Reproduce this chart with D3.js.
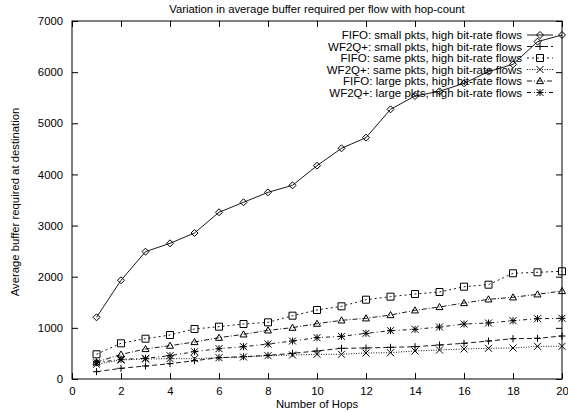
<!DOCTYPE html>
<html><head><meta charset="utf-8">
<script src="https://cdn.jsdelivr.net/npm/d3@7"></script>
<style>
body{margin:0;background:#fff;}
text{font-family:"Liberation Sans",Arial,Helvetica,sans-serif;fill:#000;}
</style></head>
<body>
<svg id="c" width="568" height="412"></svg>
<script>
const hops = d3.range(1, 21);
const fifoSmall  = [1206,1930,2490,2653,2855,3260,3455,3650,3787,4171,4511,4719,5273,5534,5625,5782,6010,6153,6596,6727];
const wf2qSmall  = [143,209,254,300,358,417,436,463,502,548,600,606,619,632,665,698,743,788,795,841];
const fifoSame   = [483,698,788,860,978,1023,1075,1108,1238,1349,1421,1551,1610,1662,1701,1805,1844,2067,2086,2106];
const wf2qSame   = [287,372,391,397,397,417,430,456,469,483,483,508,515,548,567,587,600,606,639,639];
const fifoLarge  = [330,480,587,652,724,808,873,952,1004,1082,1147,1187,1251,1343,1408,1486,1558,1597,1656,1721];
const wf2qLarge  = [319,385,404,456,534,593,632,684,743,808,834,893,945,971,1017,1075,1095,1140,1179,1187];
const seriesNames = [
  "FIFO: small pkts, high bit-rate flows",
  "WF2Q+: small pkts, high bit-rate flows",
  "FIFO: same pkts, high bit-rate flows",
  "WF2Q+: same pkts, high bit-rate flows",
  "FIFO: large pkts, high bit-rate flows",
  "WF2Q+: large pkts, high bit-rate flows"
];
const seriesValues = [fifoSmall, wf2qSmall, fifoSame, wf2qSame, fifoLarge, wf2qLarge];
const xTicks = d3.range(0, 21, 2);
const yTicks = d3.range(0, 7001, 1000);
const title = "Variation in average buffer required per flow with hop-count";
const xTitle = "Number of Hops";
const yTitle = "Average buffer required at destination";

const dashes = ["none", "5,3", "2,3", "1,1.5", "5,2,1,2", "4,3,1,3"];
const markers = ["diamond", "plus", "square", "cross", "triangle", "star"];

const svg = d3.select("#c");
const L = 72, R = 562, T = 21, B = 379;
const x = d3.scaleLinear().domain([0, 20]).range([L, R]);
const y = d3.scaleLinear().domain([0, 7000]).range([B, T]);

const tl = 6;
svg.append("g").attr("transform", `translate(0,${B})`)
  .call(d3.axisBottom(x).tickValues(xTicks).tickSize(-tl).tickPadding(tl + 3).tickFormat(d3.format("d")))
  .call(g => { g.select(".domain").remove(); g.selectAll("text").attr("font-size", 11.3).attr("dy", "0.6em"); });
svg.append("g").attr("transform", `translate(0,${T})`)
  .call(d3.axisTop(x).tickValues(xTicks).tickSize(-tl).tickFormat(""))
  .call(g => g.select(".domain").remove());
svg.append("g").attr("transform", `translate(${L},0)`)
  .call(d3.axisLeft(y).tickValues(yTicks).tickSize(-tl).tickPadding(tl + 3).tickFormat(d3.format("d")))
  .call(g => { g.select(".domain").remove(); g.selectAll("text").attr("font-size", 11.3); });
svg.append("g").attr("transform", `translate(${R},0)`)
  .call(d3.axisRight(y).tickValues(yTicks).tickSize(-tl).tickFormat(""))
  .call(g => g.select(".domain").remove());
svg.selectAll(".tick line").attr("stroke", "#000");
svg.append("rect").attr("x", L).attr("y", T).attr("width", R - L).attr("height", B - T)
  .attr("fill", "none").attr("stroke", "#000").attr("stroke-width", 1);

svg.append("text").attr("x", (L + R) / 2).attr("y", 13).attr("text-anchor", "middle").attr("font-size", 11.3).text(title);
svg.append("text").attr("x", (L + R) / 2).attr("y", 408).attr("text-anchor", "middle").attr("font-size", 11.3).text(xTitle);
svg.append("text").attr("transform", `translate(19,${(T + B) / 2 + 2}) rotate(-90)`).attr("text-anchor", "middle").attr("font-size", 11.3).text(yTitle);

function markerPath(type, s) {
  const h = s / 2;
  switch (type) {
    case "diamond": return `M0,${-h}L${h},0L0,${h}L${-h},0Z`;
    case "plus": return `M${-h},0H${h}M0,${-h}V${h}`;
    case "square": return `M${-h},${-h}H${h}V${h}H${-h}Z`;
    case "cross": return `M${-h},${-h}L${h},${h}M${-h},${h}L${h},${-h}`;
    case "triangle": return `M0,${-h}L${h},${h * 0.75}L${-h},${h * 0.75}Z`;
    case "star": return `M${-h},0H${h}M0,${-h}V${h}M${-h},${-h}L${h},${h}M${-h},${h}L${h},${-h}`;
  }
}

const line = d3.line().x((d, i) => x(hops[i])).y(d => y(d));
seriesValues.forEach((vals, k) => {
  const g = svg.append("g");
  g.append("path").attr("d", line(vals)).attr("fill", "none").attr("stroke", "#000")
    .attr("stroke-width", 0.9).attr("stroke-dasharray", dashes[k]);
  g.selectAll("path.m").data(vals).join("path").attr("class", "m")
    .attr("transform", (d, i) => `translate(${x(hops[i])},${y(d)})`)
    .attr("d", markerPath(markers[k], 7))
    .attr("fill", "none").attr("stroke", "#000").attr("stroke-width", 1);
});

const lgX = 522, lgY0 = 35, lgDy = 11.5;
seriesNames.forEach((name, k) => {
  const yy = lgY0 + k * lgDy;
  svg.append("text").attr("x", lgX).attr("y", yy).attr("dy", "0.35em").attr("text-anchor", "end").attr("font-size", 11.5).text(name);
  svg.append("line").attr("x1", 527).attr("x2", 553).attr("y1", yy).attr("y2", yy)
    .attr("stroke", "#000").attr("stroke-width", 0.9).attr("stroke-dasharray", dashes[k]);
  svg.append("path").attr("transform", `translate(540,${yy})`).attr("d", markerPath(markers[k], 7))
    .attr("fill", "none").attr("stroke", "#000").attr("stroke-width", 1);
});
</script>
</body></html>
